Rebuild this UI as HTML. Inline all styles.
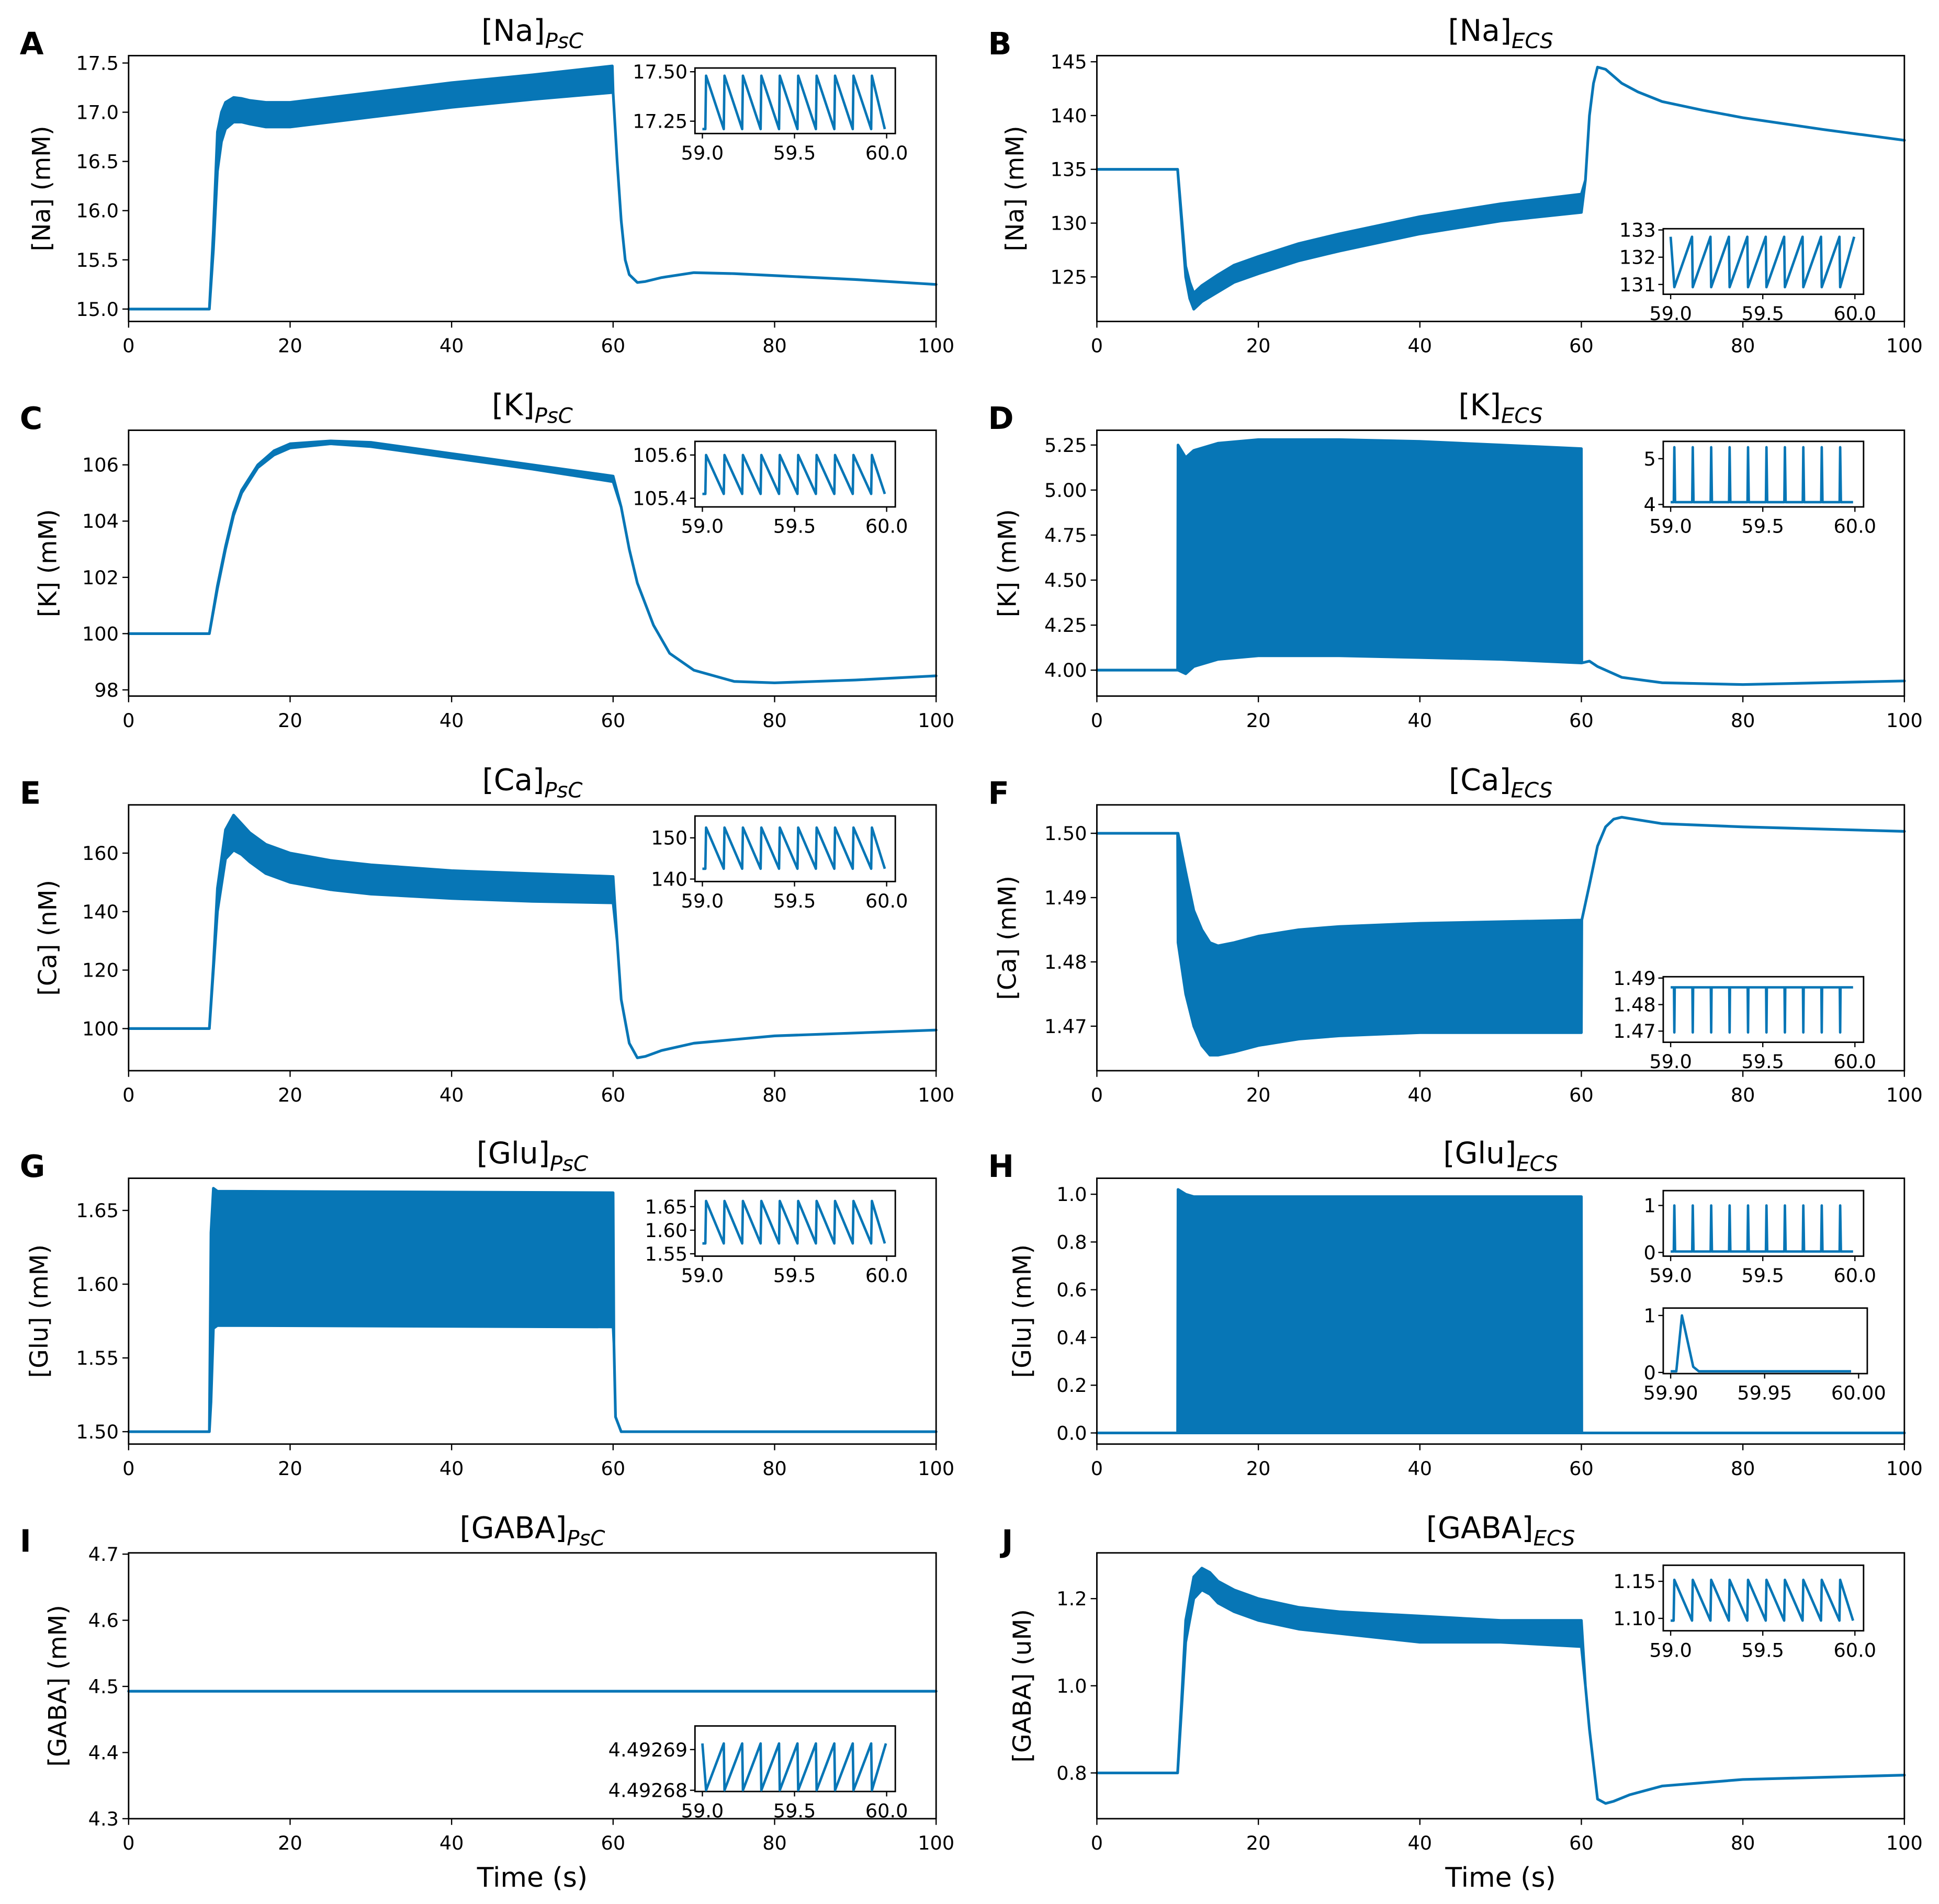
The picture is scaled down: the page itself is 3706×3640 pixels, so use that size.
<!DOCTYPE html>
<html><head><meta charset="utf-8"><style>
html,body{margin:0;padding:0;background:#fff;}
svg{display:block;font-family:"DejaVu Sans","Liberation Sans",sans-serif;}
</style></head><body>
<svg id="fig" width="3706" height="3640" viewBox="0 0 1568 1540" preserveAspectRatio="none" xmlns="http://www.w3.org/2000/svg"></svg>
<script>
// ---------------- data ----------------
const tA=[0,10,10.5,11,11.5,12,13,14,15,17,20,25,30,40,50,59.9,60,60.5,61,61.5,62,63,64,66,70,75,80,90,100];
const loA=[15,15,15.6,16.4,16.7,16.83,16.9,16.9,16.88,16.85,16.85,16.9,16.95,17.05,17.13,17.2,17.2,16.5,15.9,15.5,15.35,15.27,15.28,15.32,15.37,15.36,15.34,15.3,15.25];
const hiA=[15,15,15.8,16.8,17.0,17.1,17.15,17.14,17.12,17.1,17.1,17.15,17.2,17.3,17.38,17.47,17.2,16.5,15.9,15.5,15.35,15.27,15.28,15.32,15.37,15.36,15.34,15.3,15.25];
const tB=[0,10,10.5,11,11.5,12,13,15,17,20,25,30,40,50,60,60.5,61,61.5,62,63,65,67,70,75,80,90,100];
const loB=[135,135,130,125,123,122,122.7,123.6,124.5,125.3,126.5,127.4,129,130.2,131,134,140,143,144.5,144.3,143,142.2,141.3,140.5,139.8,138.7,137.7];
const hiB=[135,135,130.5,126,124.5,123.5,124.2,125.2,126.1,126.9,128.1,129,130.6,131.8,132.7,134,140,143,144.5,144.3,143,142.2,141.3,140.5,139.8,138.7,137.7];
const tC=[0,10,11,12,13,14,16,18,20,25,30,40,50,60,61,62,63,65,67,70,75,80,90,100];
const loC=[100,100,101.6,103,104.2,105,105.9,106.35,106.6,106.75,106.65,106.25,105.85,105.4,104.5,103,101.8,100.3,99.3,98.7,98.3,98.25,98.35,98.5];
const hiC=[100,100,101.7,103.1,104.3,105.1,106.0,106.5,106.75,106.85,106.8,106.4,106.0,105.6,104.5,103,101.8,100.3,99.3,98.7,98.3,98.25,98.35,98.5];
const tD=[0,10,10.05,11,12,15,20,30,40,50,60,60.05,61,62,65,70,80,100];
const loD=[4,4,4.0,3.98,4.02,4.06,4.08,4.08,4.07,4.06,4.04,4.04,4.05,4.02,3.96,3.93,3.92,3.94];
const hiD=[4,4,5.25,5.18,5.22,5.26,5.28,5.28,5.27,5.25,5.23,4.04,4.05,4.02,3.96,3.93,3.92,3.94];
const tE=[0,10,10.5,11,12,13,14,15,17,20,25,30,40,50,60,60.5,61,62,63,64,66,70,80,90,100];
const loE=[100,100,120,140,158,161,159.5,157,153,150,147.5,146,144.5,143.5,143,130,110,95,90,90.5,92.5,95,97.5,98.5,99.5];
const hiE=[100,100,122,148,168,173,170,167,163,160,157.5,156,154,153,152,130,110,95,90,90.5,92.5,95,97.5,98.5,99.5];
const tF=[0,10,10.05,11,12,13,14,15,17,20,25,30,40,60,60.05,61,62,63,64,65,70,80,100];
const loF=[1.5,1.5,1.483,1.475,1.47,1.467,1.4655,1.4655,1.466,1.467,1.468,1.4685,1.469,1.469,1.4865,1.492,1.498,1.501,1.5022,1.5025,1.5015,1.501,1.5003];
const hiF=[1.5,1.5,1.5,1.494,1.488,1.485,1.483,1.4825,1.483,1.484,1.485,1.4855,1.486,1.4865,1.4865,1.492,1.498,1.501,1.5022,1.5025,1.5015,1.501,1.5003];
const tG=[0,10,10.2,10.5,11,60,60.1,60.3,61,100];
const loG=[1.5,1.5,1.52,1.57,1.572,1.571,1.56,1.51,1.5,1.5];
const hiG=[1.5,1.5,1.635,1.665,1.663,1.662,1.56,1.51,1.5,1.5];
const tH=[0,10,10.05,11,12,60,60.05,100];
const loH=[0,0,0,0,0,0,0,0];
const hiH=[0,0,1.02,1.0,0.99,0.99,0,0];
const tI=[0,100];
const loI=[4.4927,4.4927];
const hiI=[4.4927,4.4927];
const tJ=[0,10,10.5,11,12,13,14,15,17,20,25,30,40,50,60,60.5,61,62,63,64,66,70,80,90,100];
const loJ=[0.8,0.8,0.95,1.1,1.2,1.22,1.21,1.19,1.17,1.15,1.13,1.12,1.1,1.1,1.09,1.0,0.9,0.74,0.73,0.735,0.75,0.77,0.785,0.79,0.795];
const hiJ=[0.8,0.8,0.97,1.15,1.25,1.27,1.26,1.24,1.22,1.2,1.18,1.17,1.16,1.15,1.15,1.0,0.9,0.74,0.73,0.735,0.75,0.77,0.785,0.79,0.795];
// inset cycle data
const peakTimes=[59.02,59.12,59.22,59.32,59.42,59.52,59.62,59.72,59.82,59.92];
const insA=[17.21,17.48]; const insB=[130.9,132.75]; const insC=[105.42,105.6];
const insD=[4.05,5.25]; const insE=[142.5,152.5]; const insF=[1.4695,1.4865];
const insG=[1.572,1.662]; const insH1=[0.02,1.0]; const insI=[4.49268,4.4926915];
const insJ=[1.097,1.152];
const pulseT=[59.9,59.903,59.906,59.909,59.912,59.915,59.996];
const pulseV=[0.02,0.02,1.0,0.55,0.1,0.02,0.02];

// ---------------- drawing ----------------
const NS="http://www.w3.org/2000/svg";
const svg=document.getElementById('fig');
const COL="#0776b6";
function el(tag,attrs,parent,txt){const e=document.createElementNS(NS,tag);for(const k in attrs)e.setAttribute(k,attrs[k]);if(txt!==undefined)e.textContent=txt;(parent||svg).appendChild(e);return e;}

const W=653,H=215;
const panels=[
 {id:'a',L:'A',x:104,y:45,t:tA,lo:loA,hi:hiA,ymin:14.874,ymax:17.575,ticks:[15,15.5,16,16.5,17,17.5],fmt:1,sp:'Na',sub:'PsC',yl:'[Na] (mM)',ylx:35},
 {id:'b',L:'B',x:887,y:45,t:tB,lo:loB,hi:hiB,ymin:120.86,ymax:145.57,ticks:[125,130,135,140,145],fmt:0,sp:'Na',sub:'ECS',yl:'[Na] (mM)',ylx:822},
 {id:'c',L:'C',x:104,y:348,t:tC,lo:loC,hi:hiC,ymin:97.78,ymax:107.23,ticks:[98,100,102,104,106],fmt:0,sp:'K',sub:'PsC',yl:'[K] (mM)',ylx:40},
 {id:'d',L:'D',x:887,y:348,t:tD,lo:loD,hi:hiD,ymin:3.856,ymax:5.332,ticks:[4,4.25,4.5,4.75,5,5.25],fmt:2,sp:'K',sub:'ECS',yl:'[K] (mM)',ylx:816},
 {id:'e',L:'E',x:104,y:651,t:tE,lo:loE,hi:hiE,ymin:85.6,ymax:176.5,ticks:[100,120,140,160],fmt:0,sp:'Ca',sub:'PsC',yl:'[Ca] (nM)',ylx:40},
 {id:'f',L:'F',x:887,y:651,t:tF,lo:loF,hi:hiF,ymin:1.46308,ymax:1.50442,ticks:[1.47,1.48,1.49,1.5],fmt:2,sp:'Ca',sub:'ECS',yl:'[Ca] (mM)',ylx:816},
 {id:'g',L:'G',x:104,y:953,t:tG,lo:loG,hi:hiG,ymin:1.4916,ymax:1.6718,ticks:[1.5,1.55,1.6,1.65],fmt:2,sp:'Glu',sub:'PsC',yl:'[Glu] (mM)',ylx:33},
 {id:'h',L:'H',x:887,y:953,t:tH,lo:loH,hi:hiH,ymin:-0.0466,ymax:1.067,ticks:[0,0.2,0.4,0.6,0.8,1.0],fmt:1,sp:'Glu',sub:'ECS',yl:'[Glu] (mM)',ylx:828},
 {id:'i',L:'I',x:104,y:1256,t:tI,lo:loI,hi:hiI,ymin:4.3,ymax:4.7019,ticks:[4.3,4.4,4.5,4.6,4.7],fmt:1,sp:'GABA',sub:'PsC',yl:'[GABA] (mM)',ylx:48},
 {id:'j',L:'J',x:887,y:1256,t:tJ,lo:loJ,hi:hiJ,ymin:0.695,ymax:1.305,ticks:[0.8,1.0,1.2],fmt:1,sp:'GABA',sub:'ECS',yl:'[GABA] (uM)',ylx:828}
];
const xTicks=[0,20,40,60,80,100];

panels.forEach(p=>{
  const g=el('g',{});
  
  
  const X=v=>p.x+v/100*W;
  const Y=v=>p.y+H-(v-p.ymin)/(p.ymax-p.ymin)*H;
  let d='M'+p.t.map((t,i)=>X(t).toFixed(2)+','+Y(p.hi[i]).toFixed(2)).join('L');
  for(let i=p.t.length-1;i>=0;i--) d+='L'+X(p.t[i]).toFixed(2)+','+Y(p.lo[i]).toFixed(2);
  d+='Z';
  const s=el('path',{d:d,fill:COL,stroke:COL,'stroke-width':2.2,'stroke-linejoin':'round'},g);
  
  
  const fr=el('rect',{x:p.x,y:p.y,width:W,height:H,fill:'none',stroke:'#000','stroke-width':1.2},g);
  
  
  xTicks.forEach(v=>{
    el('line',{x1:X(v),x2:X(v),y1:p.y+H,y2:p.y+H+5,stroke:'#000','stroke-width':1},g);
    const t=el('text',{x:X(v),y:p.y+H+25,'font-size':15.5,'text-anchor':'middle'},g,String(v));
    
    
  });
  p.ticks.forEach(v=>{
    el('line',{x1:p.x-5,x2:p.x,y1:Y(v),y2:Y(v),stroke:'#000','stroke-width':1},g);
    const t=el('text',{x:p.x-8,y:Y(v)+5.5,'font-size':15.5,'text-anchor':'end'},g,v.toFixed(p.fmt));
    
    
  });
  const yl=el('text',{x:p.ylx,y:p.y+H/2,'font-size':20,'text-anchor':'middle',transform:`rotate(-90 ${p.ylx} ${p.y+H/2})`,'dominant-baseline':'middle'},g,p.yl);
  
  
  const ti=el('text',{x:p.x+W/2,y:p.y-12,'font-size':24,'text-anchor':'middle'},g);
  
  
  el('tspan',{},ti,'['+p.sp+']');
  el('tspan',{'font-size':17,'font-style':'italic',dy:6},ti,p.sub);
  const lt=el('text',{x:p.L==='J'?(p.x-77):(p.x-88),y:p.y-1,'font-size':25,'font-weight':'bold'},g,p.L);
  
  
});
[104,887].forEach(x=>{
  const t=el('text',{x:x+W/2,y:1526,'font-size':22,'text-anchor':'middle'},svg,'Time (s)');
  
  
});

const insets=[
 {id:'a',bx:562,by:55,vals:insA,type:'fall',ymin:17.1875,ymax:17.519,ticks:[[17.5,'17.50'],[17.25,'17.25']]},
 {id:'b',bx:1345,by:185,vals:insB,type:'rise',ymin:130.64,ymax:133.045,ticks:[[133,'133'],[132,'132'],[131,'131']]},
 {id:'c',bx:562,by:357,vals:insC,type:'fall',ymin:105.36,ymax:105.663,ticks:[[105.6,'105.6'],[105.4,'105.4']]},
 {id:'d',bx:1345,by:357,vals:insD,type:'spike',ymin:3.946,ymax:5.378,ticks:[[5,'5'],[4,'4']]},
 {id:'e',bx:562,by:660,vals:insE,type:'fall',ymin:139.4,ymax:155.3,ticks:[[150,'150'],[140,'140']]},
 {id:'f',bx:1345,by:790,vals:insF,type:'dip',ymin:1.4658,ymax:1.4905,ticks:[[1.49,'1.49'],[1.48,'1.48'],[1.47,'1.47']]},
 {id:'g',bx:562,by:963,vals:insG,type:'fall',ymin:1.545,ymax:1.684,ticks:[[1.65,'1.65'],[1.6,'1.60'],[1.55,'1.55']]},
 {id:'h1',bx:1345,by:963,vals:insH1,type:'spike',ymin:-0.079,ymax:1.316,ticks:[[1,'1'],[0,'0']]},
 {id:'h2',bx:1345,by:1058,vals:null,type:'pulse',ymin:-0.02,ymax:1.13,ticks:[[1,'1'],[0,'0']],bw:165,x0:59.9,x1:60.0,xl:['59.90','59.95','60.00']},
 {id:'i',bx:562,by:1396,vals:insI,type:'rise',ymin:4.4926797,ymax:4.4926958,ticks:[[4.49269,'4.49269'],[4.49268,'4.49268']]},
 {id:'j',bx:1345,by:1266,vals:insJ,type:'fall',ymin:1.0833,ymax:1.1717,ticks:[[1.15,'1.15'],[1.1,'1.10']]}
];
insets.forEach(s=>{
  const bw=s.bw||162,bh=53;
  const x0=s.x0||59.0,x1=s.x1||60.0;
  const g=el('g',{});
  
  
  const X=v=>s.bx+6+(v-x0)/(x1-x0)*(bw-13);
  const Y=v=>s.by+bh-(v-s.ymin)/(s.ymax-s.ymin)*bh;
  el('rect',{x:s.bx,y:s.by,width:bw,height:bh,fill:'#fff',stroke:'#000','stroke-width':1.2},g);
  let pts=[];
  const n=peakTimes.length;
  if(s.type==='fall'){
    const lo=s.vals[0],hi=s.vals[1];
    pts.push([59.0,lo]);
    peakTimes.forEach(p=>{pts.push([p-0.004,lo]);pts.push([p,hi]);});
    pts.push([59.99,lo]);
  }else if(s.type==='rise'){
    const lo=s.vals[0],hi=s.vals[1];
    pts.push([59.0,hi]);
    peakTimes.forEach((p,i)=>{pts.push([p,lo]);pts.push([(i<n-1?peakTimes[i+1]:60.0)-0.004,hi]);});
  }else if(s.type==='spike'){
    const lo=s.vals[0],hi=s.vals[1];
    pts.push([59.0,lo]);
    peakTimes.forEach(p=>{pts.push([p-0.003,lo]);pts.push([p,hi]);pts.push([p+0.004,lo]);});
    pts.push([59.99,lo]);
  }else if(s.type==='dip'){
    const lo=s.vals[0],hi=s.vals[1];
    pts.push([59.0,hi]);
    peakTimes.forEach(p=>{pts.push([p-0.002,hi]);pts.push([p,lo]);pts.push([p+0.002,hi]);});
    pts.push([59.99,hi]);
  }else{
    pts=pulseT.map((t,i)=>[t,pulseV[i]]);
  }
  const ln=el('polyline',{points:pts.map(q=>X(q[0]).toFixed(2)+','+Y(q[1]).toFixed(2)).join(' '),fill:'none',stroke:COL,'stroke-width':2,'stroke-linejoin':'round'},g);
  
  
  s.ticks.forEach(tk=>{
    el('line',{x1:s.bx-4,x2:s.bx,y1:Y(tk[0]),y2:Y(tk[0]),stroke:'#000','stroke-width':1},g);
    const t=el('text',{x:s.bx-6,y:Y(tk[0])+5.5,'font-size':15.5,'text-anchor':'end'},g,tk[1]);
    
    
  });
  const xl=s.xl||['59.0','59.5','60.0'];
  const xv=[x0,(x0+x1)/2,x1];
  xv.forEach((v,i)=>{
    el('line',{x1:X(v),x2:X(v),y1:s.by+bh,y2:s.by+bh+4,stroke:'#000','stroke-width':1},g);
    const t=el('text',{x:X(v),y:s.by+bh+21,'font-size':15.5,'text-anchor':'middle'},g,xl[i]);
    
    
  });
});
</script>
</body></html>
